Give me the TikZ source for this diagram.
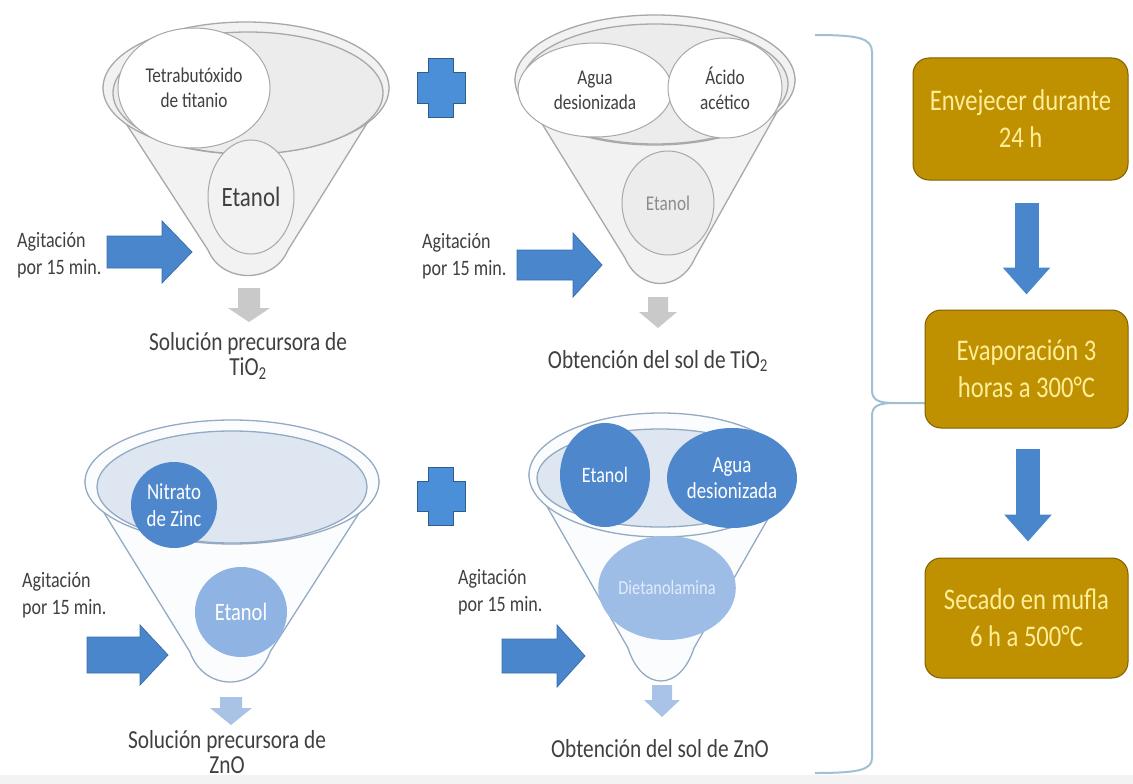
\documentclass[tikz,border=0pt]{standalone}
\usepackage{fontspec}
\setmainfont[FakeStretch=0.82]{Carlito}
\usetikzlibrary{arrows.meta,shapes.geometric,calc}

\definecolor{ftline}{HTML}{A8A8A8}
\definecolor{ftfill}{HTML}{F2F2F2}
\definecolor{ftin}{HTML}{ECECEC}
\definecolor{fbline}{HTML}{94AAC2}
\definecolor{fbfill}{HTML}{FBFCFE}
\definecolor{fbin}{HTML}{DDE6F1}
\definecolor{tdark}{HTML}{404040}
\definecolor{tgray}{HTML}{8C8C8C}
\definecolor{bdark}{HTML}{4F87CC}
\definecolor{blight}{HTML}{8FB4E3}
\definecolor{blighter}{HTML}{9DBDE6}
\definecolor{dietext}{HTML}{E2ECF8}
\definecolor{arrblue}{HTML}{4A86CC}
\definecolor{arrblueline}{HTML}{3B6FAE}
\definecolor{arrgray}{HTML}{C9C9C9}
\definecolor{arrlblue}{HTML}{A9C3E6}
\definecolor{plusfill}{HTML}{4A8FD8}
\definecolor{plusline}{HTML}{2F5E8E}
\definecolor{boxfill}{HTML}{BF9000}
\definecolor{boxline}{HTML}{7F6000}
\definecolor{boxtext}{HTML}{FFEE99}
\definecolor{bracecol}{HTML}{A0C0D4}
\definecolor{bandgray}{HTML}{F3F3F3}

\newcommand{\myrarrow}[6]{% x0, xhead, xtip, cy, shaft half, head half
  \filldraw[bluearrow] (#1,#4-#5) -- (#2,#4-#5) -- (#2,#4-#6) -- (#3,#4) -- (#2,#4+#6) -- (#2,#4+#5) -- (#1,#4+#5) -- cycle;}
\newcommand{\mydarrow}[7]{% cx, ytop, yhead, ytip, shaft half, head half, style
  \fill[#7] (#1-#5,#2) -- (#1+#5,#2) -- (#1+#5,#3) -- (#1+#6,#3) -- (#1,#4) -- (#1-#6,#3) -- (#1-#5,#3) -- cycle;}
\newcommand{\myplus}[2]{%
  \filldraw[plusstyle] (#1-12.5,#2-29) -- (#1+12.5,#2-29) -- (#1+12.5,#2-15) -- (#1+24,#2-15) -- (#1+24,#2+15) -- (#1+12.5,#2+15) -- (#1+12.5,#2+29) -- (#1-12.5,#2+29) -- (#1-12.5,#2+15) -- (#1-24,#2+15) -- (#1-24,#2-15) -- (#1-12.5,#2-15) -- cycle;}

\begin{document}
\begin{tikzpicture}[x=1pt,y=-1pt,
  funnelT/.style={fill=ftfill, draw=ftline, line width=1.3pt},
  funnelTin/.style={fill=ftin, draw=ftline, line width=1.3pt},
  funnelB/.style={fill=fbfill, draw=fbline, line width=1.3pt},
  funnelBin/.style={fill=fbin, draw=fbline, line width=1.3pt},
  blob/.style={ellipse, inner sep=0pt, align=center, line width=1pt},
  blobW/.style={blob, fill=white, draw=ftline, text=tdark},
  blobG/.style={blob, fill=ftfill, draw=ftline, text=tdark},
  blobD/.style={blob, fill=bdark, draw=none, text=white},
  blobL/.style={blob, fill=blight, draw=none, text=white},
  lbl/.style={font=\fontsize{21}{25}\selectfont},
  agit/.style={anchor=west, align=left, text=tdark, font=\fontsize{22}{27}\selectfont, inner sep=0pt},
  caption/.style={align=center, text=tdark, font=\fontsize{26}{25}\selectfont, inner sep=0pt},
  bluearrow/.style={fill=arrblue, draw=arrblueline, line width=0.8pt},
  plusstyle/.style={fill=plusfill, draw=plusline, line width=1pt},
  procbox/.style={rectangle, rounded corners=16pt, fill=boxfill, draw=boxline, line width=1pt,
    text=boxtext, align=center, font=\fontsize{30}{37}\selectfont, inner sep=0pt},
  blockarrow/.style={draw=arrblue, line width=24pt, -{Triangle[width=46pt,length=27pt]}},
  bracestyle/.style={draw=bracecol, line width=2pt}
]
\useasboundingbox (0,0) rectangle (1133,784);
\fill[white] (0,0) rectangle (1133,784);
\fill[bandgray] (0,775) rectangle (1133,784);

% ---------- Top-left funnel ----------
\filldraw[funnelT] (103,88) -- (208,250) .. controls (222,284) and (274,284) .. (288,250) -- (389,88) -- cycle;
\filldraw[funnelT] (246,88) ellipse [x radius=143, y radius=66];
\filldraw[funnelTin] (248,93) ellipse [x radius=135, y radius=61];
\node[blobW, lbl, minimum width=152, minimum height=120] (tetra) at (194,88) {Tetrabutóxido\\de titanio};
\node[blobG, font=\fontsize{28}{30}\selectfont, minimum width=86, minimum height=114] (etTL) at (251,197) {Etanol};

% ---------- Top-right funnel ----------
\filldraw[funnelT] (515,80) -- (625,258) .. controls (640,292) and (680,292) .. (695,258) -- (795,80) -- cycle;
\filldraw[funnelT] (655,80) ellipse [x radius=140, y radius=65];
\filldraw[funnelTin] (655,84) ellipse [x radius=133, y radius=60];
\node[blobW, lbl, minimum width=154, minimum height=94] (aguaT) at (595,90) {Agua\\desionizada};
\node[blobW, lbl, minimum width=114, minimum height=100] (acido) at (725,88) {Ácido\\acético};
\node[blob, fill=ftin, draw=ftline, text=tgray, lbl, minimum width=92, minimum height=104] (etTR) at (668,203) {Etanol};

% ---------- Bottom-left funnel ----------
\filldraw[funnelB] (85,482) -- (190,652) .. controls (204,692) and (256,692) .. (270,652) -- (379,482) -- cycle;
\filldraw[funnelB] (232,482) ellipse [x radius=147, y radius=62];
\filldraw[funnelBin] (232,487) ellipse [x radius=135, y radius=56];
\node[blobD, font=\fontsize{23}{27}\selectfont, minimum width=86, minimum height=86] (nitrato) at (174,505) {Nitrato\\de Zinc};
\node[blobL, font=\fontsize{25}{27}\selectfont, minimum width=92, minimum height=90] (etBL) at (241,612) {Etanol};

% ---------- Bottom-right funnel ----------
\filldraw[funnelB] (529,475) -- (628,648) .. controls (642,692) and (680,692) .. (694,648) -- (793,475) -- cycle;
\filldraw[funnelB] (661,475) ellipse [x radius=132, y radius=62];
\filldraw[funnelBin] (660,478) ellipse [x radius=123, y radius=49];
\node[blobD, font=\fontsize{22}{26}\selectfont, minimum width=90, minimum height=104] (etBR) at (605,475) {Etanol};
\node[blobD, font=\fontsize{23}{26}\selectfont, minimum width=130, minimum height=100] (aguaB) at (732,478) {Agua\\desionizada};
\node[blob, fill=blighter, draw=none, text=dietext, font=\fontsize{20}{24}\selectfont, minimum width=134, minimum height=104] (dieta) at (667,588) {Dietanolamina};

% ---------- Plus signs ----------
\myplus{441}{88}
\myplus{441}{496}

% ---------- Stirring arrows and labels ----------
\myrarrow{107}{162}{192}{252}{16}{31}
\myrarrow{517}{573}{602}{265}{15}{32}
\myrarrow{87}{140}{168}{655}{18}{30}
\myrarrow{502}{557}{585}{656}{17}{31}
\node[agit] (agTL) at (17,255) {Agitación\\por 15 min.};
\node[agit] (agTR) at (422,256) {Agitación\\por 15 min.};
\node[agit] (agBL) at (22,595) {Agitación\\por 15 min.};
\node[agit] (agBR) at (458,592) {Agitación\\por 15 min.};

% ---------- Output arrows and captions ----------
\mydarrow{249}{288}{308}{322}{11}{21}{arrgray}
\mydarrow{658}{297}{312}{328}{10}{19}{arrgray}
\mydarrow{231}{697}{708}{725}{11}{21}{arrlblue}
\mydarrow{662}{685}{700}{717}{10}{18}{arrlblue}
\node[caption] (capTL) at (248,356) {Solución precursora de\\TiO\textsubscript{2}};
\node[caption] (capTR) at (658,361) {Obtención del sol de TiO\textsubscript{2}};
\node[caption] (capBL) at (227,752) {Solución precursora de\\ZnO};
\node[caption] (capBR) at (660,749) {Obtención del sol de ZnO};

% ---------- Brace ----------
\draw[bracestyle] (815,35) .. controls (858,35) and (872,38) .. (872,52) -- (872,390)
  .. controls (872,400) and (878,403) .. (895,403) -- (925,403);
\draw[bracestyle] (895,403) .. controls (878,403) and (872,406) .. (872,416) -- (872,758)
  .. controls (872,770) and (858,773) .. (815,773);

% ---------- Process boxes ----------
\node[procbox, minimum width=215, minimum height=122] (b1) at (1020.5,119) {Envejecer durante\\24 h};
\node[procbox, minimum width=203, minimum height=118] (b2) at (1026.5,369) {Evaporación 3\\horas a 300°C};
\node[procbox, minimum width=203, minimum height=120] (b3) at (1026.5,618) {Secado en mufla\\6 h a 500°C};
\path (b1.south -| b2.north) ++(0,22) coordinate (a1s);
\path (b2.south) ++(1.5,20) coordinate (a2s);
\draw[blockarrow] (a1s) -- ([yshift=15pt]b2.north);
\draw[blockarrow] (a2s) -- ([xshift=1.5pt,yshift=16pt]b3.north);
\end{tikzpicture}
\end{document}
